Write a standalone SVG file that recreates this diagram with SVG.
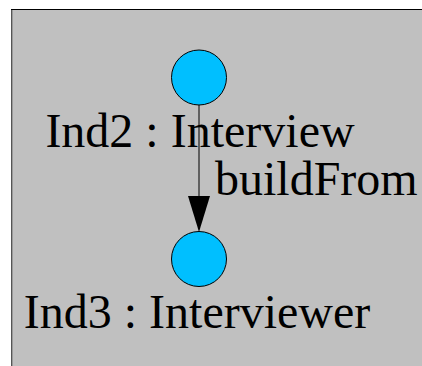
<svg xmlns="http://www.w3.org/2000/svg" width="422" height="366" viewBox="0 0 422 366">
<style>
.node{fill:#00bfff;stroke:#000;stroke-width:1}
.lbl{font-family:"Liberation Serif",serif;font-size:48px;fill:#000}
.edge{stroke:#000;stroke-width:1;fill:none}
</style>
<rect x="11" y="9" width="420" height="370" fill="#c0c0c0"/>
<line x1="11.5" y1="9" x2="11.5" y2="366" stroke="#555" stroke-width="1"/>
<line x1="12.5" y1="9" x2="12.5" y2="366" stroke="#999" stroke-width="1"/>
<line x1="11" y1="9.5" x2="422" y2="9.5" stroke="#000" stroke-width="1"/>
<g id="connectors">
<line class="edge" x1="199" y1="105" x2="199" y2="196"/>
<path d="M188,196 L210,196 L199,232 Z" fill="#000"/>
<text class="lbl" x="215" y="195">buildFrom</text>
</g>
<g id="ind2">
<circle class="node" cx="199" cy="77.5" r="27.5"/>
<text class="lbl" x="200" y="146.5" text-anchor="middle">Ind2 : Interview</text>
</g>
<g id="ind3">
<circle class="node" cx="199" cy="259" r="27.5"/>
<text class="lbl" x="197" y="328" text-anchor="middle">Ind3 : Interviewer</text>
</g>
</svg>
